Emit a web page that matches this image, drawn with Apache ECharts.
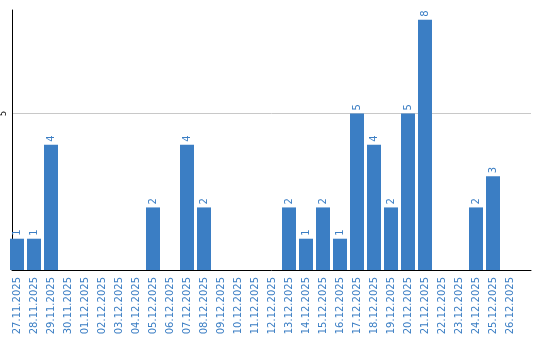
<!DOCTYPE html>
<html>
<head>
<meta charset="utf-8">
<script src="https://cdn.jsdelivr.net/npm/echarts@6/dist/echarts.min.js"></script>
<style>html,body{margin:0;padding:0;background:#fff}#c{width:540px;height:340px}</style>
</head>
<body>
<div id="c"></div>
<script>
const categories = ["27.11.2025","28.11.2025","29.11.2025","30.11.2025","01.12.2025","02.12.2025","03.12.2025","04.12.2025","05.12.2025","06.12.2025","07.12.2025","08.12.2025","09.12.2025","10.12.2025","11.12.2025","12.12.2025","13.12.2025","14.12.2025","15.12.2025","16.12.2025","17.12.2025","18.12.2025","19.12.2025","20.12.2025","21.12.2025","22.12.2025","23.12.2025","24.12.2025","25.12.2025","26.12.2025"];
const values = [1,1,4,0,0,0,0,0,2,0,4,2,0,0,0,0,2,1,2,1,5,4,2,5,8,0,0,2,3,0];
const yTickLabels = [5];

const BLUE = '#3b7ec4';
const FONT = 'DejaVu Sans';
const YMAX = 8.31;

const chart = echarts.init(document.getElementById('c'), null, {renderer: 'canvas'});
chart.setOption({
  animation: false,
  backgroundColor: '#fff',
  grid: [
    {left: 8.5, top: 10, width: 510, height: 260},
    {left: 10, top: 10, right: 9, height: 260}
  ],
  xAxis: [
    {
      type: 'category', gridIndex: 0, data: categories,
      axisLine: {show: false}, axisTick: {show: false},
      axisLabel: {interval: 0, rotate: 90, margin: 7, fontSize: 10, fontFamily: FONT, color: BLUE}
    },
    {
      type: 'value', gridIndex: 1, min: 0, max: 1,
      axisLine: {show: true, lineStyle: {color: '#000', width: 1}},
      axisTick: {show: false}, axisLabel: {show: false}, splitLine: {show: false}
    }
  ],
  yAxis: [
    {
      type: 'value', gridIndex: 0, min: 0, max: YMAX, interval: 5,
      axisLine: {show: false}, axisTick: {show: false}, axisLabel: {show: false}, splitLine: {show: false}
    },
    {
      type: 'value', gridIndex: 1, min: 0, max: YMAX, interval: 5,
      axisLine: {show: true, lineStyle: {color: '#000', width: 1}},
      axisTick: {show: false},
      axisLabel: {
        show: true, rotate: 90, margin: 4, fontSize: 8, fontFamily: FONT, color: '#000',
        showMinLabel: false, showMaxLabel: false,
        formatter: v => yTickLabels.includes(v) ? String(v) : ''
      },
      splitLine: {show: true, showMinLine: false, showMaxLine: false, lineStyle: {color: '#c8c8c8', width: 1}}
    }
  ],
  series: [{
    type: 'bar', xAxisIndex: 0, yAxisIndex: 0,
    data: values, barWidth: 14,
    itemStyle: {color: BLUE},
    label: {
      show: true, position: 'top', rotate: 90, align: 'left', verticalAlign: 'middle',
      distance: 3, fontSize: 10, fontFamily: FONT, color: BLUE,
      formatter: p => p.value > 0 ? String(p.value) : ''
    }
  }]
});
</script>
</body>
</html>
